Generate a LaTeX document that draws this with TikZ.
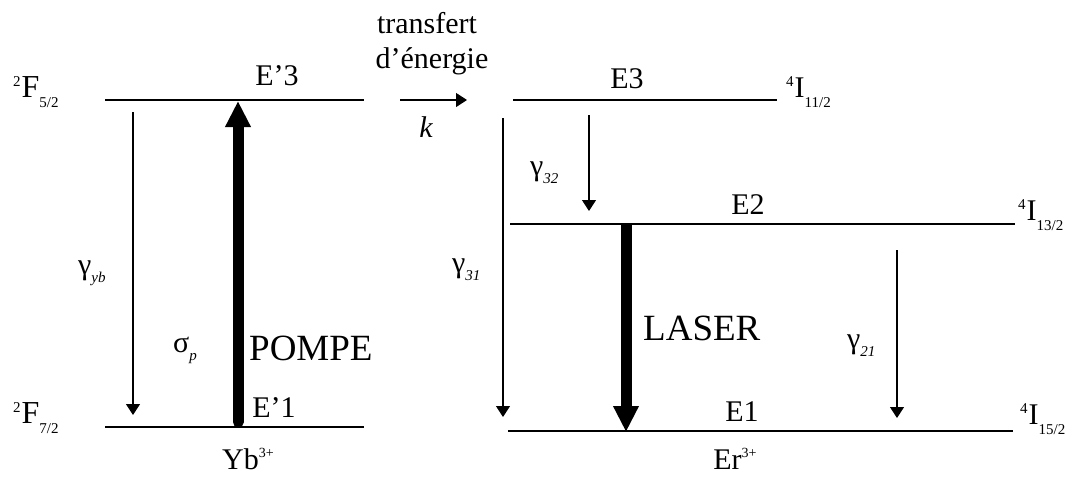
\documentclass[tikz,border=0pt]{standalone}
\usepackage{fontspec}
\setmainfont{Liberation Serif}
\usetikzlibrary{arrows.meta}
\newcommand{\fsz}[1]{\fontsize{#1}{#1}\selectfont}
\newcommand{\gsub}[2]{#1\raisebox{-8pt}{\fsz{15}\itshape #2}}
\newcommand{\term}[3]{\raisebox{11pt}{\fsz{15}#1}\kern1pt#2\raisebox{-10pt}{\fsz{15}#3}}
\newcommand{\ion}[2]{#1\raisebox{12pt}{\fsz{14}#2}}
\begin{document}
\begin{tikzpicture}[x=1pt,y=-1pt,
  lvl/.style={line width=2.2pt},
  thin/.style={line width=1.1pt,-{Triangle[width=14pt,length=11pt]}},
  thick/.style={line width=11pt,-{Triangle[width=24pt,length=26pt]}},
  txt/.style={inner sep=0pt,anchor=base,font=\fsz{30}},
  big/.style={inner sep=0pt,anchor=base west,font=\fsz{37}}]
\useasboundingbox (0,0) rectangle (1077,477);
% Yb levels
\coordinate (ybTa) at (105,100); \coordinate (ybTb) at (364,100);
\coordinate (ybBa) at (105,427); \coordinate (ybBb) at (364,427);
\draw[lvl] (ybTa) -- (ybTb);
\draw[lvl] (ybBa) -- (ybBb);
\coordinate (gybS) at (133,112); \coordinate (gybE) at (133,415);
\draw[thin] (gybS) -- (gybE);
\coordinate (pS) at (238,422); \coordinate (pE) at (238,101);
\draw[thick,line cap=round] (pS) -- (pE);
\node[txt] (e3p) at (277,85) {E’3};
\node[txt] (e1p) at (274,417) {E’1};
\node[txt] (yb) at (248,469) {\ion{Yb}{3+}};
\node[txt,anchor=base west,font=\fsz{32}] (f52) at (13,97) {\term{2}{F}{5/2}};
\node[txt,anchor=base west,font=\fsz{32}] (f72) at (13,423) {\term{2}{F}{7/2}};
\node[txt,anchor=base west] (gyb) at (78,274) {\gsub{γ}{yb}};
\node[txt,anchor=base west] (sp) at (173,352) {\gsub{σ}{p}};
\node[big] (pompe) at (249,360) {POMPE};
% transfer
\node[txt] (tr1) at (427,33) {transfert};
\node[txt] (tr2) at (432,68) {d’énergie};
\coordinate (kS) at (400,100); \coordinate (kE) at (467,100);
\draw[thin] (kS) -- (kE);
\node[txt,font=\fsz{30}\itshape] (k) at (426,137) {k};
% Er levels
\coordinate (e3a) at (513,100); \coordinate (e3b) at (777,100);
\coordinate (e2a) at (510,224); \coordinate (e2b) at (1015,224);
\coordinate (e1a) at (508,431); \coordinate (e1b) at (1013,431);
\draw[lvl] (e3a) -- (e3b);
\draw[lvl] (e2a) -- (e2b);
\draw[lvl] (e1a) -- (e1b);
\node[txt] (E3) at (627,88) {E3};
\node[txt] (E2) at (748,214) {E2};
\node[txt] (E1) at (742,421) {E1};
\node[txt] (er) at (735,469) {\ion{Er}{3+}};
\node[txt,anchor=base west,font=\fsz{30}] (i11) at (786,97) {\term{4}{I}{11/2}};
\node[txt,anchor=base west,font=\fsz{30}] (i13) at (1018,220) {\term{4}{I}{13/2}};
\node[txt,anchor=base west,font=\fsz{30}] (i15) at (1020,424) {\term{4}{I}{15/2}};
\coordinate (g31S) at (503,118); \coordinate (g31E) at (503,417);
\draw[thin] (g31S) -- (g31E);
\coordinate (g32S) at (589,115); \coordinate (g32E) at (589,211);
\draw[thin] (g32S) -- (g32E);
\coordinate (g21S) at (897,250); \coordinate (g21E) at (897,418);
\draw[thin] (g21S) -- (g21E);
\coordinate (lS) at (626,224); \coordinate (lE) at (626,432);
\draw[thick] (lS) -- (lE);
\node[txt,anchor=base west] (g32) at (530,175) {\gsub{γ}{32}};
\node[txt,anchor=base west] (g31) at (452,272) {\gsub{γ}{31}};
\node[txt,anchor=base west] (g21) at (847,348) {\gsub{γ}{21}};
\node[big] (laser) at (643,340) {LASER};
\end{tikzpicture}
\end{document}
